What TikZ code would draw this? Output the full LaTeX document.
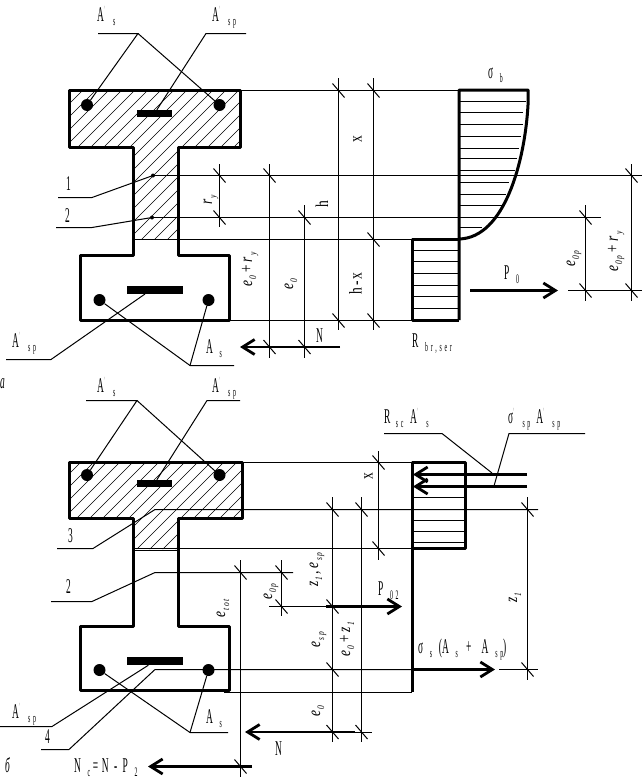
\documentclass[tikz,border=0pt]{standalone}
\usepackage{fontspec}
\setmainfont{Liberation Serif}
\usetikzlibrary{calc, arrows.meta}
\newlength{\sgap}
\newlength{\lgap}
\newcommand{\sbsize}{13}
\setlength{\sgap}{15pt}
\setlength{\lgap}{6pt}
\newcommand{\sbs}[1]{\hspace{\sgap}\raisebox{-4pt}{\fontsize{\sbsize}{\sbsize}\selectfont #1}}
\newcommand{\prm}{\raisebox{8pt}{\fontsize{9}{9}\selectfont\color{gray}$'$}\hspace{3pt}}
\newcommand{\ls}{\hspace{\lgap}}
\begin{document}
\begin{tikzpicture}
      [x=1pt,y=-1pt
      ,thn/.style={draw=black,line width=1pt}
      ,thk/.style={draw=black,line width=3pt,line join=round}
      ,hat/.style={draw=black,line width=.6pt}
      ,frc/.style={draw=black,line width=2.8pt,-{Straight Barb[length=12pt,width=15pt]}}
      ,bar/.style={circle,fill=black,inner sep=0pt,minimum size=12pt}
      ,pla/.style={rectangle,fill=black,inner sep=0pt}
      ,lab/.style={anchor=base west,inner sep=0pt,xscale=.45,font=\fontsize{21}{21}\selectfont}
      ,rlab/.style={anchor=base west,inner sep=0pt,rotate=90,xscale=.75,font=\renewcommand{\sbsize}{10}\fontsize{18}{18}\selectfont\setlength{\sgap}{2pt}\setlength{\lgap}{2pt}}
      ]
        \useasboundingbox (0,0) rectangle (642,779);

        % a: hatching of the compressed zone
        \begin{scope}
            \clip (69,91) -- (240,91) -- (240,147) -- (178,147) -- (178,239) -- (133,239) -- (133,147) -- (69,147) -- cycle;
            \foreach \k in {-170,-157,...,90}
            {
                \draw[hat] (\k,330) -- ++(300,-300);
            }
        \end{scope}

        % a: section
        \draw[thk] (69,90) -- (240,90) -- (240,147) -- (178,147) -- (178,255) -- (229,255) -- (229,320) -- (80,320) -- (80,255) -- (133,255) -- (133,147) -- (69,147) -- cycle;
        \node[bar] (b1) at (87,105) {};
        \node[bar] (b2) at (219.5,105) {};
        \node[bar] (b3) at (99.5,300) {};
        \node[bar] (b4) at (208.5,300) {};
        \node[pla,minimum width=35pt,minimum height=7pt] (p1) at (154.5,113.5) {};
        \node[pla,minimum width=56pt,minimum height=8pt] (p2) at (155,290) {};
        \fill (153,175.5) circle (2pt) coordinate (d1);
        \fill (152,217.5) circle (2pt) coordinate (d2);

        % a: leaders
        \coordinate (t1) at (138,33.5);
        \coordinate (t2) at (206,33.5);
        \coordinate (t3) at (190,365.5);
        \draw[thn] (98,33.5) -- (t1) -- (b1);
        \draw[thn] (t1) -- (b2);
        \draw[thn] (246,33.5) -- (t2) -- (p1);
        \draw[thn] (6,359.5) -- (51,359.5) -- (145,294);
        \draw[thn] (234,365.5) -- (t3) -- (b3);
        \draw[thn] (t3) -- (b4);
        \draw[thn] (58,197.5) -- (92,197.5) -- (d1);
        \draw[thn] (56,227.5) -- (92,227.5) -- (d2);

        % a: extension lines
        \draw[thn] (240,90.5) -- (459,90.5);
        \draw[thn] (d1) -- (642,175.5);
        \draw[thn] (d2) -- (601,217.5);
        \draw[thn] (133,239.5) -- (412,239.5);
        \draw[thn] (229,320.5) -- (412,320.5);
        \draw[thn] (568,290.5) -- (642,290.5);

        % a: dimension lines
        \foreach \x/\a/\b in {219.5/164/227, 269.5/164/358, 304.5/205/358, 338.5/78/330, 373.5/78/330, 585.5/205/301, 631.5/164/301}
        {
            \draw[thn] (\x,\a) -- (\x,\b);
        }
        \foreach \x/\y in {219.5/175.5, 219.5/217.5, 269.5/175.5, 269.5/347, 304.5/217.5, 304.5/347, 338.5/90.5, 338.5/320.5, 373.5/90.5, 373.5/239.5, 373.5/320.5, 585.5/217.5, 585.5/290.5, 631.5/175.5, 631.5/290.5}
        {
            \draw[thn] (\x-6,\y-7) -- (\x+6,\y+7);
        }

        % a: stress diagram
        \foreach \y/\e in {101.5/526, 112.5/523, 124.5/523, 136.5/521, 148.5/519, 158.5/517, 170.5/515, 182.5/509, 194.5/506, 205.5/502, 227.5/482}
        {
            \draw[thn] (459,\y) -- (\e,\y);
        }
        \foreach \y in {250.5, 261.5, 273.5, 285.5, 296.5, 308.5}
        {
            \draw[thn] (412,\y) -- (459,\y);
        }
        \draw[thk] (459,320) -- (459,90) -- (528,90) -- (528,105) .. controls (525,160) and (505,238) .. (459,239);
        \draw[thk] (459,239) -- (412,239) -- (412,320) -- (459,320);
        \draw[frc] (470,290.5) -- (558,290.5);
        \draw[frc] (340,347) -- (240,347);

        % a: labels
        \node[lab] (l1) at (97,21) {A\prm\sbs{s}};
        \node[lab] (l2) at (212,21) {A\prm\sbs{s\ls p}};
        \node[lab] (l3) at (12,347) {A\prm\sbs{s\ls p}};
        \node[lab] (l4) at (206,353) {A\sbs{s}};
        \node[lab] (l5) at (66,190) {1};
        \node[lab] (l6) at (65,222) {2};
        \node[lab] (l7) at (488,78) {σ\sbs{b}};
        \node[lab] (l8) at (412,347) {R\sbs{b\ls r\ls,\ls s\ls e\ls r}};
        \node[lab] (l9) at (504,279) {P\sbs{0}};
        \node[lab] (l10) at (316,342) {N};
        \node[lab] (l11) at (0,388) {\itshape а};
        \node[rlab] (r1) at (252,287) {\itshape e\sbs{0}\,+\,r\sbs{y}};
        \node[rlab] (r2) at (293,290) {\itshape e\sbs{0}};
        \node[rlab] (r3) at (212,205) {\itshape r\sbs{y}};
        \node[rlab] (r4) at (328,208) {h};
        \node[rlab] (r5) at (361.5,143) {x};
        \node[rlab] (r6) at (361.5,295) {h\,-\,x};
        \node[rlab] (r7) at (575,267) {\itshape e\sbs{0\ls p}};
        \node[rlab] (r8) at (618,272) {\itshape e\sbs{0\ls p}\,+\,r\sbs{y}};

        % b: hatching of the compressed zone
        \begin{scope}
            \clip (69,462) -- (242,462) -- (242,518) -- (178,518) -- (178,549) -- (133,549) -- (133,518) -- (69,518) -- cycle;
            \foreach \k in {-170,-157,...,100}
            {
                \draw[hat] (\k,700) -- ++(300,-300);
            }
        \end{scope}

        % b: section
        \draw[thk] (69,462) -- (242,462) -- (242,518) -- (178,518) -- (178,626) -- (229,626) -- (229,690) -- (80,690) -- (80,626) -- (133,626) -- (133,518) -- (69,518) -- cycle;
        \node[bar] (b5) at (87,475) {};
        \node[bar] (b6) at (219.5,475) {};
        \node[bar] (b7) at (99.5,670) {};
        \node[bar] (b8) at (208.5,670) {};
        \node[pla,minimum width=35pt,minimum height=7pt] (p3) at (154.5,483.5) {};
        \node[pla,minimum width=56pt,minimum height=8pt] (p4) at (155,661) {};

        % b: leaders
        \coordinate (t4) at (137,400.5);
        \coordinate (t5) at (207,400.5);
        \coordinate (t6) at (190,732.5);
        \draw[thn] (86,400.5) -- (t4) -- (b5);
        \draw[thn] (t4) -- (b6);
        \draw[thn] (240,400.5) -- (t5) -- (p3);
        \draw[thn] (0,726.5) -- (52,726.5) -- (p4);
        \draw[thn] (228,732.5) -- (t6) -- (b7);
        \draw[thn] (t6) -- (b8);
        \draw[thn] (57,548.5) -- (93,548.5) -- (155,509.5) -- (538,509.5);
        \draw[thn] (51,601.5) -- (92,601.5) -- (155,572.5) -- (293,572.5);
        \draw[thn] (41,749.5) -- (69,749.5) -- (155,669.5) -- (412,669.5);

        % b: extension lines
        \draw[thn] (242,462.5) -- (412,462.5);
        \draw[thn] (133,548.5) -- (412,548.5);
        \draw[thn] (133,550.5) -- (178,550.5);
        \draw[thn] (269,606.5) -- (326,606.5);
        \draw[thn] (224,692.5) -- (412,692.5);
        \draw[thn] (499,669.5) -- (538,669.5);

        % b: dimension lines
        \foreach \x/\a/\b in {378.5/451/560, 332.5/497/742, 361.5/497/742, 527.5/497/680, 240.5/560/777, 281.5/560/616}
        {
            \draw[thn] (\x,\a) -- (\x,\b);
        }
        \foreach \x/\y in {378.5/462.5, 378.5/548.5, 332.5/509.5, 332.5/606.5, 332.5/669.5, 332.5/732, 361.5/509.5, 361.5/732, 527.5/509.5, 527.5/669.5, 240.5/572.5, 240.5/766.5, 281.5/572.5, 281.5/606.5}
        {
            \draw[thn] (\x-6,\y-7) -- (\x+6,\y+7);
        }
        \draw[thn] (355,732.5) -- (372,732.5);

        % b: stress block and forces
        \foreach \y in {497.5, 520.5, 531.5, 542.5}
        {
            \draw[thn] (412,\y) -- (465,\y);
        }
        \draw[thk] (412.5,692) -- (412.5,462) -- (465,462) -- (465,548) -- (412.5,548);
        \draw[frc] (527,474.5) -- (413,474.5);
        \draw[frc] (527,486.5) -- (413,486.5);
        \draw[thn] (384,433.5) -- (442,433.5) -- (492,473);
        \draw[thn] (585,433.5) -- (509,433.5) -- (494,486);
        \draw[frc] (326,606.5) -- (402,606.5);
        \draw[frc] (412,669.5) -- (495,669.5);
        \draw[frc] (355,732) -- (245,732);
        \draw[frc] (252,766.5) -- (148,766.5);

        % b: labels
        \node[lab] (l12) at (97,392) {A\prm\sbs{s}};
        \node[lab] (l13) at (212,392) {A\prm\sbs{s\ls p}};
        \node[lab] (l14) at (12,718) {A\prm\sbs{s\ls p}};
        \node[lab] (l15) at (206,723) {A\sbs{s}};
        \node[lab] (l16) at (68,542) {3};
        \node[lab] (l17) at (66,593) {2};
        \node[lab] (l18) at (45,743) {4};
        \node[lab] (l19) at (5,772) {\itshape б};
        \node[lab] (l20) at (74,772) {N\sbs{c}\hspace{6pt}=\hspace{8pt}N\hspace{12pt}-\hspace{12pt}P\sbs{2}};
        \node[lab] (l21) at (275,755) {N};
        \node[lab] (l22) at (378,595) {P\sbs{0\ls 2}};
        \node[lab] (l23) at (418,653) {σ\sbs{s}\hspace{15pt}(A\sbs{s}\hspace{18pt}+\hspace{23pt}A\sbs{s\ls p})};
        \node[lab] (l24) at (384,423) {R\hspace{-3pt}\sbs{s\ls c}\hspace{15pt}A\prm\sbs{s}};
        \node[lab] (l25) at (508,423) {σ\prm\sbs{s\ls p}\hspace{13pt}A\prm\sbs{s\ls p}};
        \node[rlab] (r9) at (225,618) {\itshape e\sbs{t\ls o\ls t}};
        \node[rlab] (r10) at (272,600) {\itshape e\sbs{0\ls p}};
        \node[rlab] (r11) at (318,587) {\itshape z\sbs{1}\,,\,e\sbs{s\ls p}};
        \node[rlab] (r12) at (320,648) {\itshape e\sbs{s\ls p}};
        \node[rlab] (r13) at (320,717) {\itshape e\sbs{0}};
        \node[rlab] (r14) at (350,657) {\itshape e\sbs{0}\,+\,z\sbs{1}};
        \node[rlab] (r15) at (517,603) {\itshape z\sbs{1}};
        \node[rlab] (r16) at (372.5,480) {x};
       \end{tikzpicture}
\end{document}
